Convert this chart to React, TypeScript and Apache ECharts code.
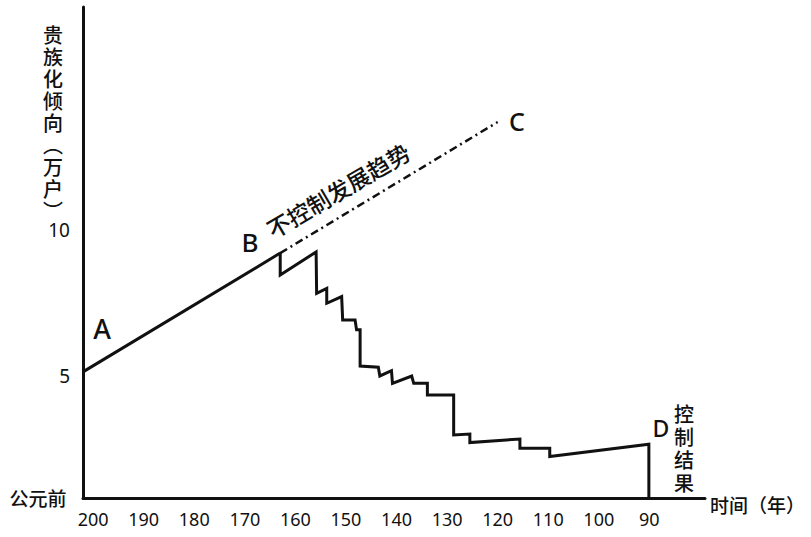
import React, { useEffect, useRef } from "react";
import * as echarts from "echarts";

// x tick labels (years BCE) and y tick labels
const tickYears = [200, 190, 180, 170, 160, 150, 140, 130, 120, 110, 100, 90];
const yTicks = [5, 10];

// A -> B : rising trend
const trendYears = [202, 163];
const trendValues = [5.14, 9.21];

// B -> C : projected trend without control
const projectionYears = [163, 120];
const projectionValues = [9.21, 13.7];

// B -> D : result of control (stepped decline)
const controlYears = [
  163, 163, 155.9, 155.8, 153.8, 153.8, 150.85, 150.65, 148.2, 147.9, 147.2, 147.2,
  143.6, 143.3, 141.0, 140.8, 137.0, 136.6, 133.9, 133.9, 128.7, 128.7, 125.5, 125.5,
  115.6, 115.6, 109.7, 109.7, 90.1, 90.1,
];
const controlValues = [
  9.21, 8.46, 9.25, 7.83, 8.0, 7.49, 7.72, 6.92, 6.92, 6.58, 6.58, 5.34,
  5.3, 5.0, 5.18, 4.75, 5.0, 4.75, 4.75, 4.35, 4.35, 2.98, 3.01, 2.72,
  2.84, 2.52, 2.52, 2.24, 2.66, 0.82,
];

const yTitleChars = ["贵", "族", "化", "倾", "向", "︵", "万", "户", "︶"];
const resultChars = ["控", "制", "结", "果"];

const CJK = '"Noto Sans CJK SC", "Noto Sans", sans-serif';
const LAT = '"Noto Sans", "Liberation Sans", sans-serif';

const zip = (xs: number[], ys: number[]) => xs.map((x, i) => [x, ys[i]]);

export default function App() {
  const ref = useRef<HTMLDivElement>(null);
  useEffect(() => {
    if (!ref.current) return;
    const chart = echarts.init(ref.current, undefined, { renderer: "svg" });
    const lineBase = { color: "#111", width: 3, join: "miter" as const, cap: "butt" as const };
    const charText = (ch: string, x: number, y: number, size: number) => ({
      type: "text",
      x,
      y,
      style: {
        text: ch,
        font: `500 ${size}px ${CJK}`,
        lineHeight: size,
        fill: "#111",
        align: "center",
        verticalAlign: "middle",
      },
    });
    chart.setOption({
      animation: false,
      backgroundColor: "#fff",
      grid: { left: 83, right: 106, top: 7, bottom: 39, outerBoundsMode: "none" },
      xAxis: {
        type: "value",
        inverse: true,
        min: 79,
        max: 202,
        axisLine: { show: true, onZero: false, lineStyle: { color: "#111", width: 3 } },
        axisTick: { show: false },
        splitLine: { show: false },
        axisLabel: {
          customValues: tickYears,
          color: "#111",
          fontSize: 18,
          fontFamily: LAT,
          margin: 12,
        },
      },
      yAxis: {
        type: "value",
        min: 0.82,
        max: 17.64,
        axisLine: { show: true, onZero: false, lineStyle: { color: "#111", width: 3 } },
        axisTick: { show: false },
        splitLine: { show: false },
        axisLabel: {
          customValues: yTicks,
          color: "#111",
          fontSize: 19,
          fontFamily: LAT,
          margin: 13,
        },
      },
      series: [
        {
          type: "line",
          data: zip(trendYears, trendValues),
          showSymbol: false,
          clip: false,
          lineStyle: lineBase,
        },
        {
          type: "line",
          data: zip(projectionYears, projectionValues),
          showSymbol: false,
          clip: false,
          lineStyle: { color: "#111", width: 2.5, type: [8, 4, 2, 4] },
        },
        {
          type: "line",
          data: zip(controlYears, controlValues),
          showSymbol: false,
          clip: false,
          lineStyle: lineBase,
        },
      ],
      graphic: [
        ...yTitleChars.map((ch, i) => charText(ch, 53, 34 + i * 22, 20)),
        ...resultChars.map((ch, i) => charText(ch, 684, 413 + i * 23, 20)),
        {
          type: "text",
          x: 38,
          y: 497,
          style: { text: "公元前", font: `500 19px ${CJK}`, fill: "#111", align: "center", verticalAlign: "middle" },
        },
        {
          type: "text",
          x: 710,
          y: 504,
          style: { text: "时间（年）", font: `500 19px ${CJK}`, fill: "#111", align: "left", verticalAlign: "middle" },
        },
        {
          type: "text",
          x: 102,
          y: 328,
          style: { text: "A", font: `500 27px ${LAT}`, fill: "#111", align: "center", verticalAlign: "middle" },
        },
        {
          type: "text",
          x: 250,
          y: 242,
          style: { text: "B", font: `500 26px ${LAT}`, fill: "#111", align: "center", verticalAlign: "middle" },
        },
        {
          type: "text",
          x: 517,
          y: 121,
          style: { text: "C", font: `500 25px ${LAT}`, fill: "#111", align: "center", verticalAlign: "middle" },
        },
        {
          type: "text",
          x: 661,
          y: 428,
          style: { text: "D", font: `500 23px ${LAT}`, fill: "#111", align: "center", verticalAlign: "middle" },
        },
        {
          type: "text",
          x: 338,
          y: 190,
          rotation: (30.4 * Math.PI) / 180,
          style: {
            text: "不控制发展趋势",
            font: `500 23px ${CJK}`,
            fill: "#111",
            align: "center",
            verticalAlign: "middle",
          },
        },
      ],
    });
    return () => chart.dispose();
  }, []);
  return (
    <div
      ref={ref}
      style={{ position: "absolute", left: 0, top: 0, width: 811, height: 537, background: "#fff" }}
    />
  );
}
